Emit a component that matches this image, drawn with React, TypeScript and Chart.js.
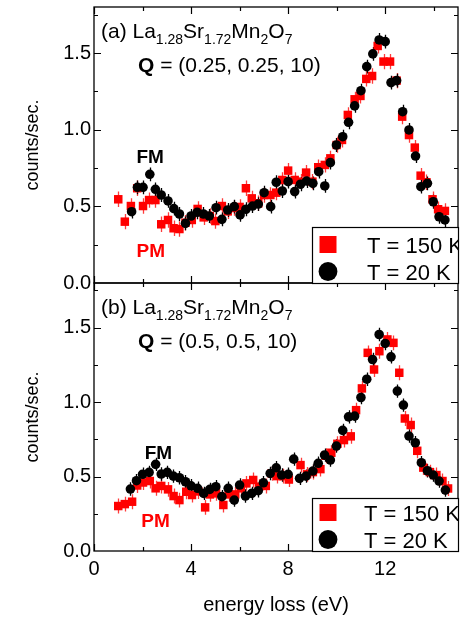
import React, { useEffect, useRef } from 'react';
import { Chart, registerables } from 'chart.js';

Chart.register(...registerables);

const FONT = '"Liberation Sans", Arial, Helvetica, sans-serif';

// ---------- Panel (a): Q = (0.25, 0.25, 10) ----------
const A_X_20K = [1.55, 1.79, 2.02, 2.3, 2.53, 2.77, 3.05, 3.29, 3.52, 3.77, 4.0, 4.25, 4.51, 4.75, 5.03, 5.27, 5.51, 5.78, 6.02, 6.26, 6.53, 6.77, 7.01, 7.28, 7.51, 7.76, 8.0, 8.27, 8.51, 8.76, 9.02, 9.26, 9.51, 9.74, 9.99, 10.25, 10.49, 10.74, 11.0, 11.24, 11.49, 11.75, 12.0, 12.24, 12.47, 12.72, 12.98, 13.25, 13.47, 13.74, 13.98, 14.22, 14.46];
const A_Y_20K = [0.465, 0.624, 0.624, 0.709, 0.611, 0.574, 0.535, 0.485, 0.45, 0.389, 0.437, 0.461, 0.45, 0.437, 0.491, 0.415, 0.476, 0.498, 0.444, 0.481, 0.502, 0.515, 0.589, 0.498, 0.657, 0.6, 0.661, 0.596, 0.644, 0.665, 0.65, 0.726, 0.633, 0.785, 0.9, 0.954, 1.048, 1.155, 1.254, 1.411, 1.494, 1.585, 1.574, 1.307, 1.32, 1.117, 0.998, 0.828, 0.628, 0.65, 0.53, 0.432, 0.411];
const A_X_150K = [1.0, 1.27, 1.52, 1.78, 2.02, 2.27, 2.53, 2.77, 3.05, 3.28, 3.52, 3.77, 4.03, 4.27, 4.52, 4.77, 5.0, 5.27, 5.51, 5.78, 6.0, 6.26, 6.5, 6.77, 7.01, 7.27, 7.51, 7.76, 8.0, 8.27, 8.51, 8.74, 9.0, 9.24, 9.51, 9.74, 10.0, 10.22, 10.46, 10.74, 10.98, 11.22, 11.46, 11.69, 11.93, 12.2, 12.47, 12.7, 12.98, 13.22, 13.46, 13.7, 13.95, 14.18, 14.46];
const A_Y_150K = [0.546, 0.4, 0.502, 0.618, 0.502, 0.541, 0.541, 0.383, 0.411, 0.357, 0.352, 0.393, 0.411, 0.483, 0.428, 0.437, 0.404, 0.502, 0.467, 0.489, 0.496, 0.618, 0.552, 0.52, 0.574, 0.574, 0.589, 0.672, 0.733, 0.672, 0.661, 0.72, 0.661, 0.755, 0.77, 0.813, 0.9, 0.933, 1.096, 1.198, 1.22, 1.331, 1.35, 1.546, 1.444, 1.444, 1.32, 1.085, 0.965, 0.883, 0.7, 0.657, 0.546, 0.481, 0.47];

// ---------- Panel (b): Q = (0.5, 0.5, 10) ----------
const B_X_20K = [1.5, 1.75, 2.0, 2.27, 2.54, 2.77, 3.02, 3.27, 3.52, 3.77, 4.0, 4.27, 4.52, 4.77, 5.02, 5.27, 5.53, 5.78, 6.0, 6.24, 6.5, 6.77, 6.98, 7.26, 7.51, 7.73, 8.0, 8.23, 8.47, 8.74, 9.02, 9.24, 9.5, 9.74, 9.99, 10.25, 10.49, 10.74, 11.0, 11.24, 11.48, 11.75, 12.0, 12.24, 12.5, 12.75, 12.98, 13.24, 13.49, 13.74, 13.98, 14.22, 14.48];
const B_Y_20K = [0.416, 0.472, 0.515, 0.528, 0.582, 0.517, 0.528, 0.503, 0.492, 0.465, 0.438, 0.421, 0.387, 0.414, 0.432, 0.365, 0.421, 0.342, 0.443, 0.369, 0.387, 0.405, 0.458, 0.521, 0.559, 0.51, 0.515, 0.617, 0.488, 0.503, 0.537, 0.589, 0.644, 0.611, 0.705, 0.81, 0.901, 0.906, 1.031, 1.154, 1.286, 1.454, 1.394, 1.304, 1.074, 0.98, 0.772, 0.727, 0.593, 0.539, 0.51, 0.47, 0.409];
const B_X_150K = [1.0, 1.27, 1.57, 1.78, 2.02, 2.3, 2.54, 2.77, 3.05, 3.28, 3.52, 3.8, 4.04, 4.3, 4.58, 4.78, 5.03, 5.33, 5.55, 5.82, 6.05, 6.28, 6.56, 6.8, 7.08, 7.32, 7.55, 7.79, 8.03, 8.51, 8.78, 9.02, 9.33, 9.54, 9.78, 10.03, 10.3, 10.58, 10.8, 11.04, 11.28, 11.54, 11.76, 12.09, 12.34, 12.58, 12.81, 13.05, 13.32, 13.57, 13.84, 14.11, 14.36, 14.59];
const B_Y_150K = [0.302, 0.315, 0.331, 0.44, 0.46, 0.47, 0.421, 0.437, 0.414, 0.369, 0.342, 0.398, 0.376, 0.4, 0.293, 0.38, 0.387, 0.309, 0.38, 0.38, 0.421, 0.454, 0.477, 0.432, 0.437, 0.521, 0.503, 0.503, 0.48, 0.577, 0.515, 0.53, 0.55, 0.64, 0.66, 0.72, 0.745, 0.77, 0.946, 1.092, 1.331, 1.219, 1.342, 1.421, 1.398, 1.197, 0.89, 0.846, 0.673, 0.56, 0.53, 0.51, 0.47, 0.42];

const ERR_20K = 0.045;
const ERR_150K = 0.05;

const X_MIN = 0;
const X_MAX = 15;
const Y_MIN = 0;
const Y_MAX = 1.8;
const X_TICKS = [0, 4, 8, 12];
const X_MINOR = [2, 6, 10, 14];
const Y_TICKS = [0, 0.5, 1.0, 1.5];
const Y_MINOR = [0.25, 0.75, 1.25, 1.75];

const LEGEND_LABELS = ['T = 150 K', 'T = 20 K'];
const FORMULA = [
  ['La', false],
  ['1.28', true],
  ['Sr', false],
  ['1.72', true],
  ['Mn', false],
  ['2', true],
  ['O', false],
  ['7', true],
] as [string, boolean][];

type Panel = {
  tag: string;
  q: string;
  x20: number[];
  y20: number[];
  x150: number[];
  y150: number[];
  fm: [number, number];
  pm: [number, number];
  top: number;
  bottom: number;
  showX: boolean;
  legendH: number;
  legendTextDx: number;
};

const PANEL_A: Panel = {
  tag: '(a) ',
  q: ' = (0.25, 0.25, 10)',
  x20: A_X_20K,
  y20: A_Y_20K,
  x150: A_X_150K,
  y150: A_Y_150K,
  fm: [1.75, 0.78],
  pm: [1.75, 0.17],
  top: 7,
  bottom: 283,
  showX: false,
  legendH: 56,
  legendTextDx: 55,
};

const PANEL_B: Panel = {
  tag: '(b) ',
  q: ' = (0.5, 0.5, 10)',
  x20: B_X_20K,
  y20: B_Y_20K,
  x150: B_X_150K,
  y150: B_Y_150K,
  fm: [2.09, 0.617],
  pm: [1.95, 0.161],
  top: 283,
  bottom: 551,
  showX: true,
  legendH: 53,
  legendTextDx: 52,
};

const W = 464;
const H = 617;
const X_AXIS_H = 66;

function zip(xs: number[], ys: number[]) {
  return xs.map((x, i) => ({ x, y: ys[i] }));
}

function makeDecor(p: Panel) {
  return {
    id: 'decor' + p.tag.trim(),
    beforeDatasetsDraw(chart: any) {
      const ctx = chart.ctx;
      const xs = chart.scales.x;
      const ys = chart.scales.y;
      const area = chart.chartArea;
      ctx.save();
      ctx.beginPath();
      ctx.rect(area.left, area.top, area.right - area.left, area.bottom - area.top);
      ctx.clip();
      const sets = [
        { xv: p.x150, yv: p.y150, e: ERR_150K, c: '#ff3b3b' },
        { xv: p.x20, yv: p.y20, e: ERR_20K, c: '#000000' },
      ];
      ctx.lineWidth = 1.3;
      for (const s of sets) {
        ctx.strokeStyle = s.c;
        ctx.beginPath();
        s.xv.forEach((xv, i) => {
          const px = Math.round(xs.getPixelForValue(xv)) + 0.5;
          ctx.moveTo(px, ys.getPixelForValue(s.yv[i] - s.e));
          ctx.lineTo(px, ys.getPixelForValue(s.yv[i] + s.e));
        });
        ctx.stroke();
      }
      ctx.restore();
    },
    afterDraw(chart: any) {
      const ctx = chart.ctx;
      const xs = chart.scales.x;
      const ys = chart.scales.y;
      const { left, right, top, bottom } = chart.chartArea;
      ctx.save();
      // frame
      ctx.strokeStyle = '#000';
      ctx.lineWidth = 1.3;
      ctx.strokeRect(left, top, right - left, bottom - top);
      // inward ticks
      ctx.lineWidth = 1.2;
      ctx.beginPath();
      const tick = (vals: number[], len: number) => {
        vals.forEach((v) => {
          const px = Math.round(xs.getPixelForValue(v)) + 0.5;
          ctx.moveTo(px, bottom);
          ctx.lineTo(px, bottom - len);
          ctx.moveTo(px, top);
          ctx.lineTo(px, top + len);
        });
      };
      const ytick = (vals: number[], len: number) => {
        vals.forEach((v) => {
          const py = Math.round(ys.getPixelForValue(v)) + 0.5;
          ctx.moveTo(left, py);
          ctx.lineTo(left + len, py);
          ctx.moveTo(right, py);
          ctx.lineTo(right - len, py);
        });
      };
      tick(X_TICKS, 7);
      tick(X_MINOR, 4);
      ytick(Y_TICKS.filter((v) => v > 0), 7);
      ytick(Y_MINOR, 4);
      ctx.stroke();

      // title formula
      ctx.fillStyle = '#000';
      ctx.textBaseline = 'alphabetic';
      ctx.textAlign = 'left';
      let cx = left + 7;
      const by = top + 30.5;
      ctx.font = `21px ${FONT}`;
      ctx.fillText(p.tag, cx, by);
      cx += ctx.measureText(p.tag).width;
      for (const [t, sub] of FORMULA) {
        ctx.font = sub ? `14px ${FONT}` : `21px ${FONT}`;
        ctx.fillText(t, cx, sub ? by + 6.5 : by);
        cx += ctx.measureText(t).width;
      }
      // Q line
      let qx = left + 44;
      const qy = top + 65;
      ctx.font = `bold 21px ${FONT}`;
      ctx.fillText('Q', qx, qy);
      qx += ctx.measureText('Q').width;
      ctx.font = `21px ${FONT}`;
      ctx.fillText(p.q, qx, qy);

      // FM / PM labels
      ctx.font = `bold 19px ${FONT}`;
      ctx.fillStyle = '#000';
      ctx.fillText('FM', xs.getPixelForValue(p.fm[0]), ys.getPixelForValue(p.fm[1]));
      ctx.fillStyle = '#ff0000';
      ctx.fillText('PM', xs.getPixelForValue(p.pm[0]), ys.getPixelForValue(p.pm[1]));

      // legend box
      const lx = left + 218;
      const ly = bottom - p.legendH;
      ctx.fillStyle = '#fff';
      ctx.fillRect(lx, ly, right - lx, bottom - ly);
      ctx.strokeStyle = '#000';
      ctx.lineWidth = 1.2;
      ctx.strokeRect(lx + 0.5, ly + 0.5, right - lx, bottom - ly);
      const mx = lx + 16;
      const r1 = bottom - 38.5;
      const r2 = bottom - 11.5;
      ctx.fillStyle = '#ff0000';
      ctx.fillRect(mx - 8.5, r1 - 8.5, 17, 17);
      ctx.fillStyle = '#000';
      ctx.beginPath();
      ctx.arc(mx, r2, 9.4, 0, Math.PI * 2);
      ctx.fill();
      ctx.beginPath();
      ctx.rect(left, top, right - left, bottom - top);
      ctx.clip();
      ctx.font = `22px ${FONT}`;
      ctx.fillStyle = '#000';
      ctx.fillText(LEGEND_LABELS[0], lx + p.legendTextDx, r1 + 8);
      ctx.fillText(LEGEND_LABELS[1], lx + p.legendTextDx, r2 + 8);
      ctx.restore();
    },
  };
}

function buildConfig(p: Panel): any {
  return {
    type: 'scatter',
    data: {
      datasets: [
        {
          label: LEGEND_LABELS[1],
          data: zip(p.x20, p.y20),
          pointStyle: 'circle',
          pointRadius: 4.8,
          backgroundColor: '#000000',
          borderWidth: 0,
        },
        {
          label: LEGEND_LABELS[0],
          data: zip(p.x150, p.y150),
          pointStyle: 'rect',
          pointRadius: 6,
          backgroundColor: '#ff0000',
          borderWidth: 0,
        },
      ],
    },
    options: {
      responsive: false,
      animation: false,
      events: [],
      layout: {
        padding: { left: 18, right: W - 460, top: p.top, bottom: p.showX ? H - p.bottom - X_AXIS_H : H - p.bottom },
      },
      plugins: { legend: { display: false }, tooltip: { enabled: false } },
      scales: {
        x: {
          type: 'linear',
          min: X_MIN,
          max: X_MAX,
          display: p.showX,
          grid: { display: false, drawTicks: false },
          border: { display: false },
          afterBuildTicks: (s: any) => {
            s.ticks = X_TICKS.map((v) => ({ value: v }));
          },
          ticks: {
            color: '#000',
            padding: 6,
            font: { family: FONT, size: 20 },
            maxRotation: 0,
            autoSkip: false,
            callback: (v: any) => String(v),
          },
          title: {
            display: true,
            text: 'energy loss (eV)',
            color: '#000',
            font: { family: FONT, size: 20 },
            padding: { top: 0, bottom: 0 },
          },
          afterFit: (s: any) => {
            s.height = p.showX ? X_AXIS_H : 0;
            s.paddingLeft = 0;
            s.paddingRight = 0;
          },
        },
        y: {
          type: 'linear',
          min: Y_MIN,
          max: Y_MAX,
          grid: { display: false, drawTicks: false },
          border: { display: false },
          afterBuildTicks: (s: any) => {
            s.ticks = Y_TICKS.map((v) => ({ value: v }));
          },
          ticks: {
            color: '#000',
            padding: 3,
            font: { family: FONT, size: 20 },
            autoSkip: false,
            callback: (v: any) => Number(v).toFixed(1),
          },
          title: {
            display: true,
            text: 'counts/sec.',
            color: '#000',
            font: { family: FONT, size: 18 },
            padding: { top: 4, bottom: 4 },
          },
          afterFit: (s: any) => {
            s.width = 76;
            s.paddingTop = 0;
            s.paddingBottom = 0;
          },
        },
      },
    },
    plugins: [makeDecor(p)],
  };
}

export default function App() {
  const refA = useRef<HTMLCanvasElement>(null);
  const refB = useRef<HTMLCanvasElement>(null);

  useEffect(() => {
    const ca = new Chart(refA.current as HTMLCanvasElement, buildConfig(PANEL_A));
    const cb = new Chart(refB.current as HTMLCanvasElement, buildConfig(PANEL_B));
    return () => {
      ca.destroy();
      cb.destroy();
    };
  }, []);

  const cs: React.CSSProperties = { position: 'absolute', left: 0, top: 0, width: W, height: H };
  return (
    <div style={{ position: 'fixed', left: 0, top: 0, width: W, height: H, background: '#fff' }}>
      <canvas ref={refB} width={W} height={H} style={cs} />
      <canvas ref={refA} width={W} height={H} style={cs} />
    </div>
  );
}
